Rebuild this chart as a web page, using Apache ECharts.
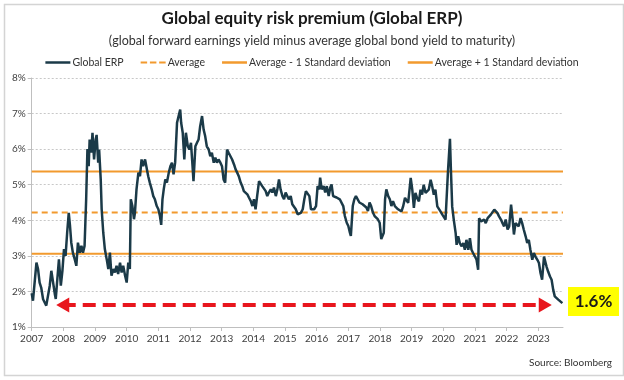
<!DOCTYPE html>
<html>
<head>
<meta charset="utf-8">
<script src="https://cdn.jsdelivr.net/npm/echarts@6/dist/echarts.min.js"></script>
<style>
html,body{margin:0;padding:0;background:#fff;}
#chart{width:624px;height:380px;}
</style>
</head>
<body>
<div id="chart"></div>
<script>
// ---- data ----
const titleText = 'Global equity risk premium (Global ERP)';
const subtitleText = '(global forward earnings yield minus average global bond yield to maturity)';
const legendNames = ['Global ERP', 'Average', 'Average - 1 Standard deviation', 'Average + 1 Standard deviation'];
const yearTicks = [2007,2008,2009,2010,2011,2012,2013,2014,2015,2016,2017,2018,2019,2020,2021,2022,2023];
const xStart = 2007;
const xEnd = 2023.78;
const average = 4.22;
const minusOneSD = 3.06;
const plusOneSD = 5.37;
const latestValue = 1.62;
const arrowFrom = 2007.78;
const arrowTo = 2023.42;
const latestLabel = '1.6%';
const sourceText = 'Source: Bloomberg';

const dates = [
2007.00,2007.04,2007.10,2007.15,2007.20,2007.25,2007.30,2007.36,2007.41,2007.46,2007.51,2007.57,2007.62,2007.67,2007.73,2007.76,2007.81,2007.86,2007.92,2007.97,
2008.02,2008.07,2008.12,2008.17,2008.21,2008.25,2008.30,2008.36,2008.41,2008.46,2008.52,2008.57,2008.62,2008.67,2008.72,2008.76,2008.80,2008.83,2008.88,2008.92,2008.97,
2009.02,2009.05,2009.10,2009.13,2009.18,2009.21,2009.26,2009.31,2009.37,2009.42,2009.47,2009.52,2009.58,2009.63,2009.68,2009.73,2009.79,2009.84,2009.89,2009.95,
2010.00,2010.05,2010.10,2010.13,2010.18,2010.23,2010.26,2010.31,2010.37,2010.42,2010.47,2010.52,2010.58,2010.63,2010.68,2010.73,2010.79,2010.84,2010.89,2010.95,
2011.00,2011.05,2011.09,2011.13,2011.17,2011.22,2011.27,2011.33,2011.38,2011.43,2011.48,2011.53,2011.59,2011.64,2011.69,2011.72,2011.77,2011.82,2011.87,2011.93,2011.98,
2012.03,2012.08,2012.11,2012.17,2012.22,2012.27,2012.32,2012.38,2012.43,2012.48,2012.53,2012.59,2012.64,2012.69,2012.75,2012.80,2012.85,2012.90,2012.96,
2013.01,2013.06,2013.11,2013.17,2013.22,2013.27,2013.33,2013.39,2013.44,2013.49,2013.54,2013.60,2013.65,2013.70,2013.76,2013.81,2013.86,2013.92,2013.97,
2014.02,2014.07,2014.12,2014.18,2014.23,2014.28,2014.34,2014.39,2014.44,2014.49,2014.55,2014.60,2014.65,2014.71,2014.76,2014.81,2014.86,2014.92,2014.97,
2015.02,2015.07,2015.12,2015.18,2015.23,2015.28,2015.34,2015.40,2015.45,2015.50,2015.56,2015.61,2015.66,2015.71,2015.77,2015.82,2015.87,2015.92,2015.98,
2016.03,2016.08,2016.11,2016.16,2016.22,2016.27,2016.32,2016.38,2016.43,2016.47,2016.52,2016.58,2016.63,2016.68,2016.73,2016.79,2016.84,2016.89,2016.95,
2017.00,2017.05,2017.08,2017.14,2017.19,2017.24,2017.29,2017.35,2017.40,2017.45,2017.51,2017.57,2017.62,2017.67,2017.72,2017.78,2017.83,2017.88,2017.93,2017.99,
2018.04,2018.07,2018.12,2018.16,2018.20,2018.26,2018.31,2018.36,2018.41,2018.47,2018.52,2018.57,2018.63,2018.68,2018.73,2018.79,2018.84,2018.89,2018.97,
2019.02,2019.07,2019.12,2019.17,2019.23,2019.28,2019.33,2019.38,2019.44,2019.49,2019.54,2019.60,2019.65,2019.70,2019.75,2019.81,2019.86,2019.91,2019.97,
2020.02,2020.07,2020.12,2020.15,2020.21,2020.24,2020.28,2020.33,2020.39,2020.42,2020.47,2020.52,2020.58,2020.63,2020.68,2020.73,2020.79,2020.84,2020.89,2020.94,
2021.00,2021.05,2021.10,2021.13,2021.19,2021.24,2021.29,2021.34,2021.40,2021.45,2021.50,2021.55,2021.61,2021.66,2021.71,2021.76,2021.82,2021.87,2021.92,2021.97,
2022.03,2022.08,2022.14,2022.19,2022.23,2022.28,2022.33,2022.38,2022.44,2022.49,2022.54,2022.60,2022.65,2022.70,2022.75,2022.81,2022.86,2022.91,2022.97,
2023.02,2023.07,2023.12,2023.18,2023.22,2023.26,2023.31,2023.37,2023.42,2023.47,2023.52,2023.58,2023.63,2023.68,2023.76
];
const erp = [
1.95,1.74,1.78,2.81,2.63,2.25,2.11,1.78,1.69,1.60,1.55,2.16,2.58,2.53,1.93,1.79,2.35,2.90,2.16,2.58,
3.19,3.00,3.65,4.21,3.84,3.37,3.09,2.90,2.72,3.37,3.09,3.28,3.09,3.28,4.59,6.00,5.52,6.27,5.90,6.46,5.71,
6.27,6.40,5.62,5.99,5.15,4.31,3.65,3.19,2.90,2.63,3.09,2.44,2.63,2.53,2.72,2.49,2.81,2.53,2.72,2.44,
2.25,2.81,2.63,4.59,4.40,4.03,4.21,4.87,5.34,5.24,5.71,5.52,5.71,5.76,5.24,5.06,4.87,4.68,4.59,4.40,
4.31,4.12,3.87,4.59,4.87,5.15,5.06,5.34,5.52,5.62,5.29,5.62,6.74,6.93,7.11,6.74,6.46,5.71,6.46,6.08,5.99,
6.18,5.52,5.10,6.08,6.18,6.27,6.64,6.93,6.55,6.36,6.08,5.99,5.80,5.90,5.62,5.76,5.62,5.71,5.62,
5.52,5.15,5.06,5.99,5.90,5.92,5.71,5.57,5.43,5.34,5.24,5.06,4.96,4.82,4.87,4.73,4.64,4.54,4.40,
4.59,4.31,4.68,5.10,5.06,4.96,5.01,4.82,4.68,4.78,4.87,4.78,4.92,4.68,4.87,5.15,4.87,4.68,4.59,
4.78,4.73,4.59,4.68,4.45,4.50,4.31,4.17,4.12,4.21,4.31,4.59,4.82,4.78,4.68,4.31,4.36,4.31,4.40,
4.96,4.87,5.20,4.87,4.96,4.78,4.96,4.68,4.92,5.01,4.68,4.64,4.64,4.68,4.59,4.59,4.40,4.12,3.93,
3.84,3.65,3.56,4.40,4.59,4.68,4.64,4.50,4.54,4.45,4.40,4.36,4.26,4.50,4.40,4.21,4.12,4.07,4.03,3.93,
3.47,3.42,3.65,4.59,4.87,4.68,4.59,4.40,4.54,4.40,4.40,4.31,4.30,4.25,4.39,4.63,4.67,4.49,5.19,
4.86,4.35,4.77,4.63,4.53,4.86,4.72,5.00,4.77,4.72,4.86,5.14,4.95,4.72,4.86,4.39,4.35,4.25,4.16,
4.20,4.02,4.02,5.42,6.29,5.42,4.39,4.02,3.64,3.31,3.55,3.36,3.27,3.36,3.17,3.45,3.17,3.50,3.17,3.08,
2.98,2.89,2.61,4.06,3.97,3.92,4.02,3.92,4.06,4.06,4.16,4.20,4.30,4.35,4.20,4.11,4.02,3.92,3.83,4.02,
3.74,3.83,4.44,4.02,3.60,3.92,3.97,3.83,4.06,3.92,3.74,3.55,3.36,3.45,3.17,2.89,3.08,2.98,2.89,
2.80,2.52,2.33,2.98,3.03,2.70,2.56,2.42,2.33,2.05,1.86,1.81,1.77,1.72,1.67
];

// ---- chart ----
const FONT = 'Lato, "Liberation Sans", sans-serif';
const ORANGE = '#F29A2E';
const NAVY = '#1b3a48';
const chart = echarts.init(document.getElementById('chart'), null, {renderer: 'canvas'});
const erpData = dates.map((d, i) => [d, erp[i]]);
const flat = v => [[xStart, v], [xEnd, v]];
const dashIcon = 'path://M0,0H7V2H0Z M10,0H17V2H10Z M20,0H27V2H20Z';

chart.setOption({
  animation: false,
  textStyle: {fontFamily: FONT},
  title: {
    text: titleText,
    subtext: subtitleText,
    left: 'center',
    top: 4,
    itemGap: 4,
    textStyle: {fontFamily: FONT, fontSize: 17, fontWeight: 'bold', color: '#1a1a1a', lineHeight: 20},
    subtextStyle: {fontFamily: FONT, fontSize: 12.5, color: '#333', lineHeight: 16}
  },
  legend: {
    data: [
      {name: legendNames[0], icon: 'rect'},
      {name: legendNames[1], icon: dashIcon},
      {name: legendNames[2], icon: 'rect'},
      {name: legendNames[3], icon: 'rect'}
    ],
    top: 52,
    left: 'center',
    itemWidth: 25,
    itemHeight: 2.5,
    itemGap: 17,
    textStyle: {fontFamily: FONT, fontSize: 10.5, color: '#333', padding: [0, 0, 0, -3]}
  },
  grid: {left: 31.7, right: 61, top: 78, bottom: 53, containLabel: false},
  xAxis: {
    type: 'value',
    min: xStart,
    max: xEnd,
    interval: 1,
    axisLine: {show: true, lineStyle: {color: '#bfbfbf', width: 1}},
    axisTick: {show: true, length: 4, inside: false, lineStyle: {color: '#bfbfbf'}, customValues: yearTicks},
    axisLabel: {customValues: yearTicks, formatter: v => String(v), fontFamily: FONT, fontSize: 10, color: '#404040', margin: 7},
    splitLine: {show: false}
  },
  yAxis: {
    type: 'value',
    min: 1,
    max: 8,
    interval: 1,
    axisLine: {show: true, lineStyle: {color: '#bfbfbf', width: 1}},
    axisTick: {show: true, length: 4, lineStyle: {color: '#bfbfbf'}},
    axisLabel: {formatter: v => v + '%', fontFamily: FONT, fontSize: 10, color: '#404040', margin: 6},
    splitLine: {show: true, lineStyle: {color: '#c8c8c8', type: [2, 2], width: 1}}
  },
  series: [
    {
      name: legendNames[0], type: 'line', data: erpData, symbol: 'none', z: 5,
      lineStyle: {color: NAVY, width: 2.5}, itemStyle: {color: NAVY},
      markLine: {
        silent: true,
        symbol: ['triangle', 'triangle'],
        symbolSize: [15, 13],
        label: {show: false},
        lineStyle: {color: '#e8161d', width: 4, type: [13, 7], opacity: 1},
        itemStyle: {color: '#e8161d'},
        data: [[{coord: [arrowFrom + 0.2, latestValue]}, {coord: [arrowTo - 0.2, latestValue]}]]
      }
    },
    {
      name: legendNames[1], type: 'line', data: flat(average), symbol: 'none', z: 3,
      lineStyle: {color: ORANGE, width: 2, type: [6, 4]}, itemStyle: {color: ORANGE}
    },
    {
      name: legendNames[2], type: 'line', data: flat(minusOneSD), symbol: 'none', z: 3,
      lineStyle: {color: ORANGE, width: 2}, itemStyle: {color: ORANGE}
    },
    {
      name: legendNames[3], type: 'line', data: flat(plusOneSD), symbol: 'none', z: 3,
      lineStyle: {color: ORANGE, width: 2}, itemStyle: {color: ORANGE}
    }
  ],
  graphic: [
    {type: 'rect', left: 2, top: 2, shape: {width: 619, height: 371}, style: {fill: 'none', stroke: '#d4d4d4', lineWidth: 1.5}, z: -1, silent: true},
    {type: 'rect', left: 568, top: 287, shape: {width: 51, height: 29}, style: {fill: '#ffff00'}, z: 10},
    {type: 'text', x: 593.5, y: 301.5, style: {text: latestLabel, font: 'bold 17px ' + FONT, fill: '#1a1a1a', align: 'center', verticalAlign: 'middle'}, z: 11},
    {type: 'text', x: 612, y: 363, style: {text: sourceText, font: '10px ' + FONT, fill: '#333', align: 'right', verticalAlign: 'middle'}, z: 11}
  ]
});
</script>
</body>
</html>
